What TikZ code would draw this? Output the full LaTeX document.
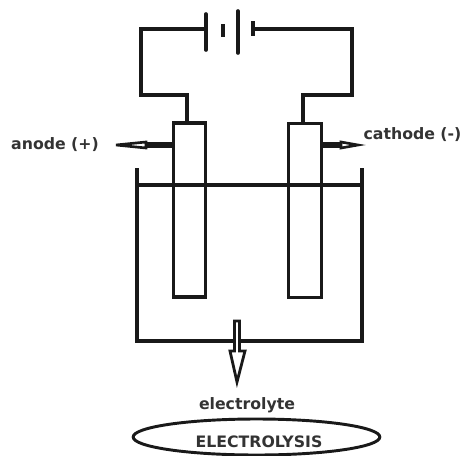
\documentclass[tikz,border=0pt]{standalone}
\usepackage{fontspec}
\setmainfont{DejaVu Sans}
\usetikzlibrary{shapes.geometric}
\tikzset{
  wire/.style={line width=2.7pt,black!90,line cap=round,line join=miter},
  thin wire/.style={line width=2.3pt,black!90,line join=miter},
  electrode/.style={draw=black!90,line width=2.4pt,fill=none,minimum width=24.5pt,minimum height=130.5pt,inner sep=0pt},
  label text/.style={font=\bfseries\fontsize{11.8}{13}\selectfont,text=black!80,inner sep=0pt},
  pointer/.style={draw=black!90,line width=1.9pt,fill=white,line join=miter}
}
\begin{document}
\begin{tikzpicture}[x=0.75pt,y=-0.75pt]
\useasboundingbox (0,0) rectangle (465,455);
% battery
\coordinate (p1a) at (206,14); \coordinate (p1b) at (206,50); \coordinate (p1m) at (206,29);
\coordinate (p2a) at (223,24); \coordinate (p2b) at (223,37);
\coordinate (p3a) at (238,11); \coordinate (p3b) at (238,53);
\coordinate (p4a) at (253,21); \coordinate (p4b) at (253,36); \coordinate (p4m) at (253,29);
\draw[wire] (p1a)--(p1b);
\draw[line width=3.2pt,black!90] (p2a)--(p2b);
\draw[wire] (p3a)--(p3b);
\draw[line width=3.2pt,black!90] (p4a)--(p4b);
% electrodes
\node[electrode] (anode) at (189.5,210) {};
\node[electrode] (cathode) at (305,210.5) {};
% wires
\draw[wire] (p1m) -| (141,95) -| (anode.north -| 187,0);
\draw[wire] (p4m) -| (352,95) -| (cathode.north -| 303,0);
% tank
\coordinate (tl) at (137,168); \coordinate (tr) at (362,168);
\coordinate (bl) at (137,341); \coordinate (br) at (362,341);
\coordinate (ll) at (137,185); \coordinate (lr) at (362,185);
\draw[thin wire] (tl)--(bl)--(br)--(tr);
\draw[thin wire] (ll)--(lr);
% side arrows
\coordinate (aL) at (116,145); \coordinate (aR) at (172,145);
\coordinate (cL) at (323,145); \coordinate (cR) at (358,145);
\draw[line width=4pt,black!90] (aR)--(146,145);
\draw[pointer,line width=2pt] (aL)--(146,142)--(146,148)--cycle;
\draw[line width=4pt,black!90] (cL)--(341,145);
\draw[pointer,line width=2pt] (cR)--(341,142)--(341,148)--cycle;
% bottom arrow
\coordinate (dn) at (237,382);
\draw[pointer,line width=2.1pt] (234.5,321)--(239.5,321)--(239.5,351)--(245,351)--(dn)--(230,351)--(234.5,351)--cycle;
% text
\node[label text] (ta) at (55,145) {anode (+)};
\node[label text] (tc) at (412.5,135) {cathode (-)};
\node[label text] (te) at (247,405) {electrolyte};
\node[draw=black!90,line width=2.2pt,ellipse,minimum width=185pt,minimum height=27pt,inner sep=0pt] (el) at (256.5,437) {};
\node[label text] (tl2) at (259,442) {ELECTROLYSIS};
\end{tikzpicture}
\end{document}
